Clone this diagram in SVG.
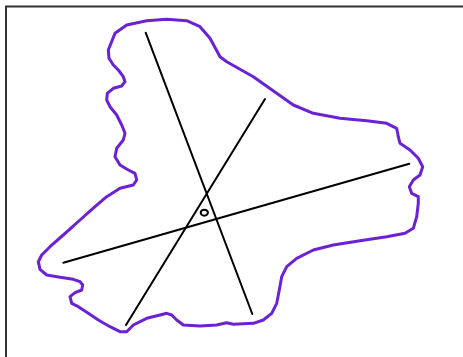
<svg xmlns="http://www.w3.org/2000/svg" width="463" height="357" viewBox="0 0 463 357">
<style>
.frame{stroke:#333;stroke-width:2;fill:none}
.blob{stroke:#6a22d4;stroke-width:3;fill:none;stroke-linejoin:round;stroke-linecap:round}
.ax{stroke:#000;stroke-width:2;fill:none;stroke-linecap:round}
</style>
<rect width="463" height="357" fill="#fff"/>
<g id="frame">
<line class="frame" x1="5" y1="6.5" x2="463" y2="6.5"/>
<line class="frame" x1="6" y1="6" x2="6" y2="357"/>
</g>
<g id="outline">
<polygon class="blob" points="108.3,50 115,33.3 126.7,25 146.7,20.7 166.7,19.3 186.7,20.7 200,26.7 210,38.3 220,56.7 226.7,61.7 253.3,76.7 276.7,93.3 293.3,105 313.3,113.3 340,118.3 366.7,120.7 386.7,123.3 396.7,128.3 398.3,136.7 400,143.3 410,150 418.3,158.3 422.7,166.7 420,175 413.3,180 409.3,186.7 411.7,193.3 418.3,196.7 418.3,203.3 416.7,216.7 413.3,228.3 405,233.3 386.7,236.7 360,240.7 333.3,245 313.3,250 296.7,258.3 286.7,266.7 281.7,276.7 279.3,290 276.7,303.3 271.7,313.3 263.3,320 253.3,323.3 233.3,324.3 226.7,322.7 216.7,325 200,326 183.3,325 176.7,320 171.7,315 166.7,313.3 160,315 146.7,318.3 133.3,325 126.7,331.7 120,331.7 110,326.7 98.3,320 88.3,313.3 78.3,306.7 71.7,303.3 70,296.7 75,292.7 81.7,290 82.7,285 80,281.7 73.3,279.3 60,277.3 46.7,275 40,269.3 38.3,261.7 41.7,255 50,246.7 63.3,235 80,220 95,206.7 106.7,196.7 120,188.3 133.3,185 136.7,180 135,173.3 128.3,170 120,165 115,156.7 116.7,148.3 123.3,140 125,133.3 121.7,125 116.7,115 110,106.7 106.7,100 107.3,93.3 113.3,88.3 121.7,86 125,81.7 123.3,76.7 118.3,70 113.3,65 109,58.3"/>
</g>
<g id="axes">
<line class="ax" x1="145.7" y1="32.7" x2="252.3" y2="314"/>
<line class="ax" x1="265" y1="99" x2="126" y2="325"/>
<line class="ax" x1="409.3" y1="163.7" x2="63.3" y2="262.7"/>
</g>
<g id="center">
<ellipse cx="204.3" cy="212.7" rx="3.6" ry="3" fill="none" stroke="#000" stroke-width="2"/>
</g>
</svg>
